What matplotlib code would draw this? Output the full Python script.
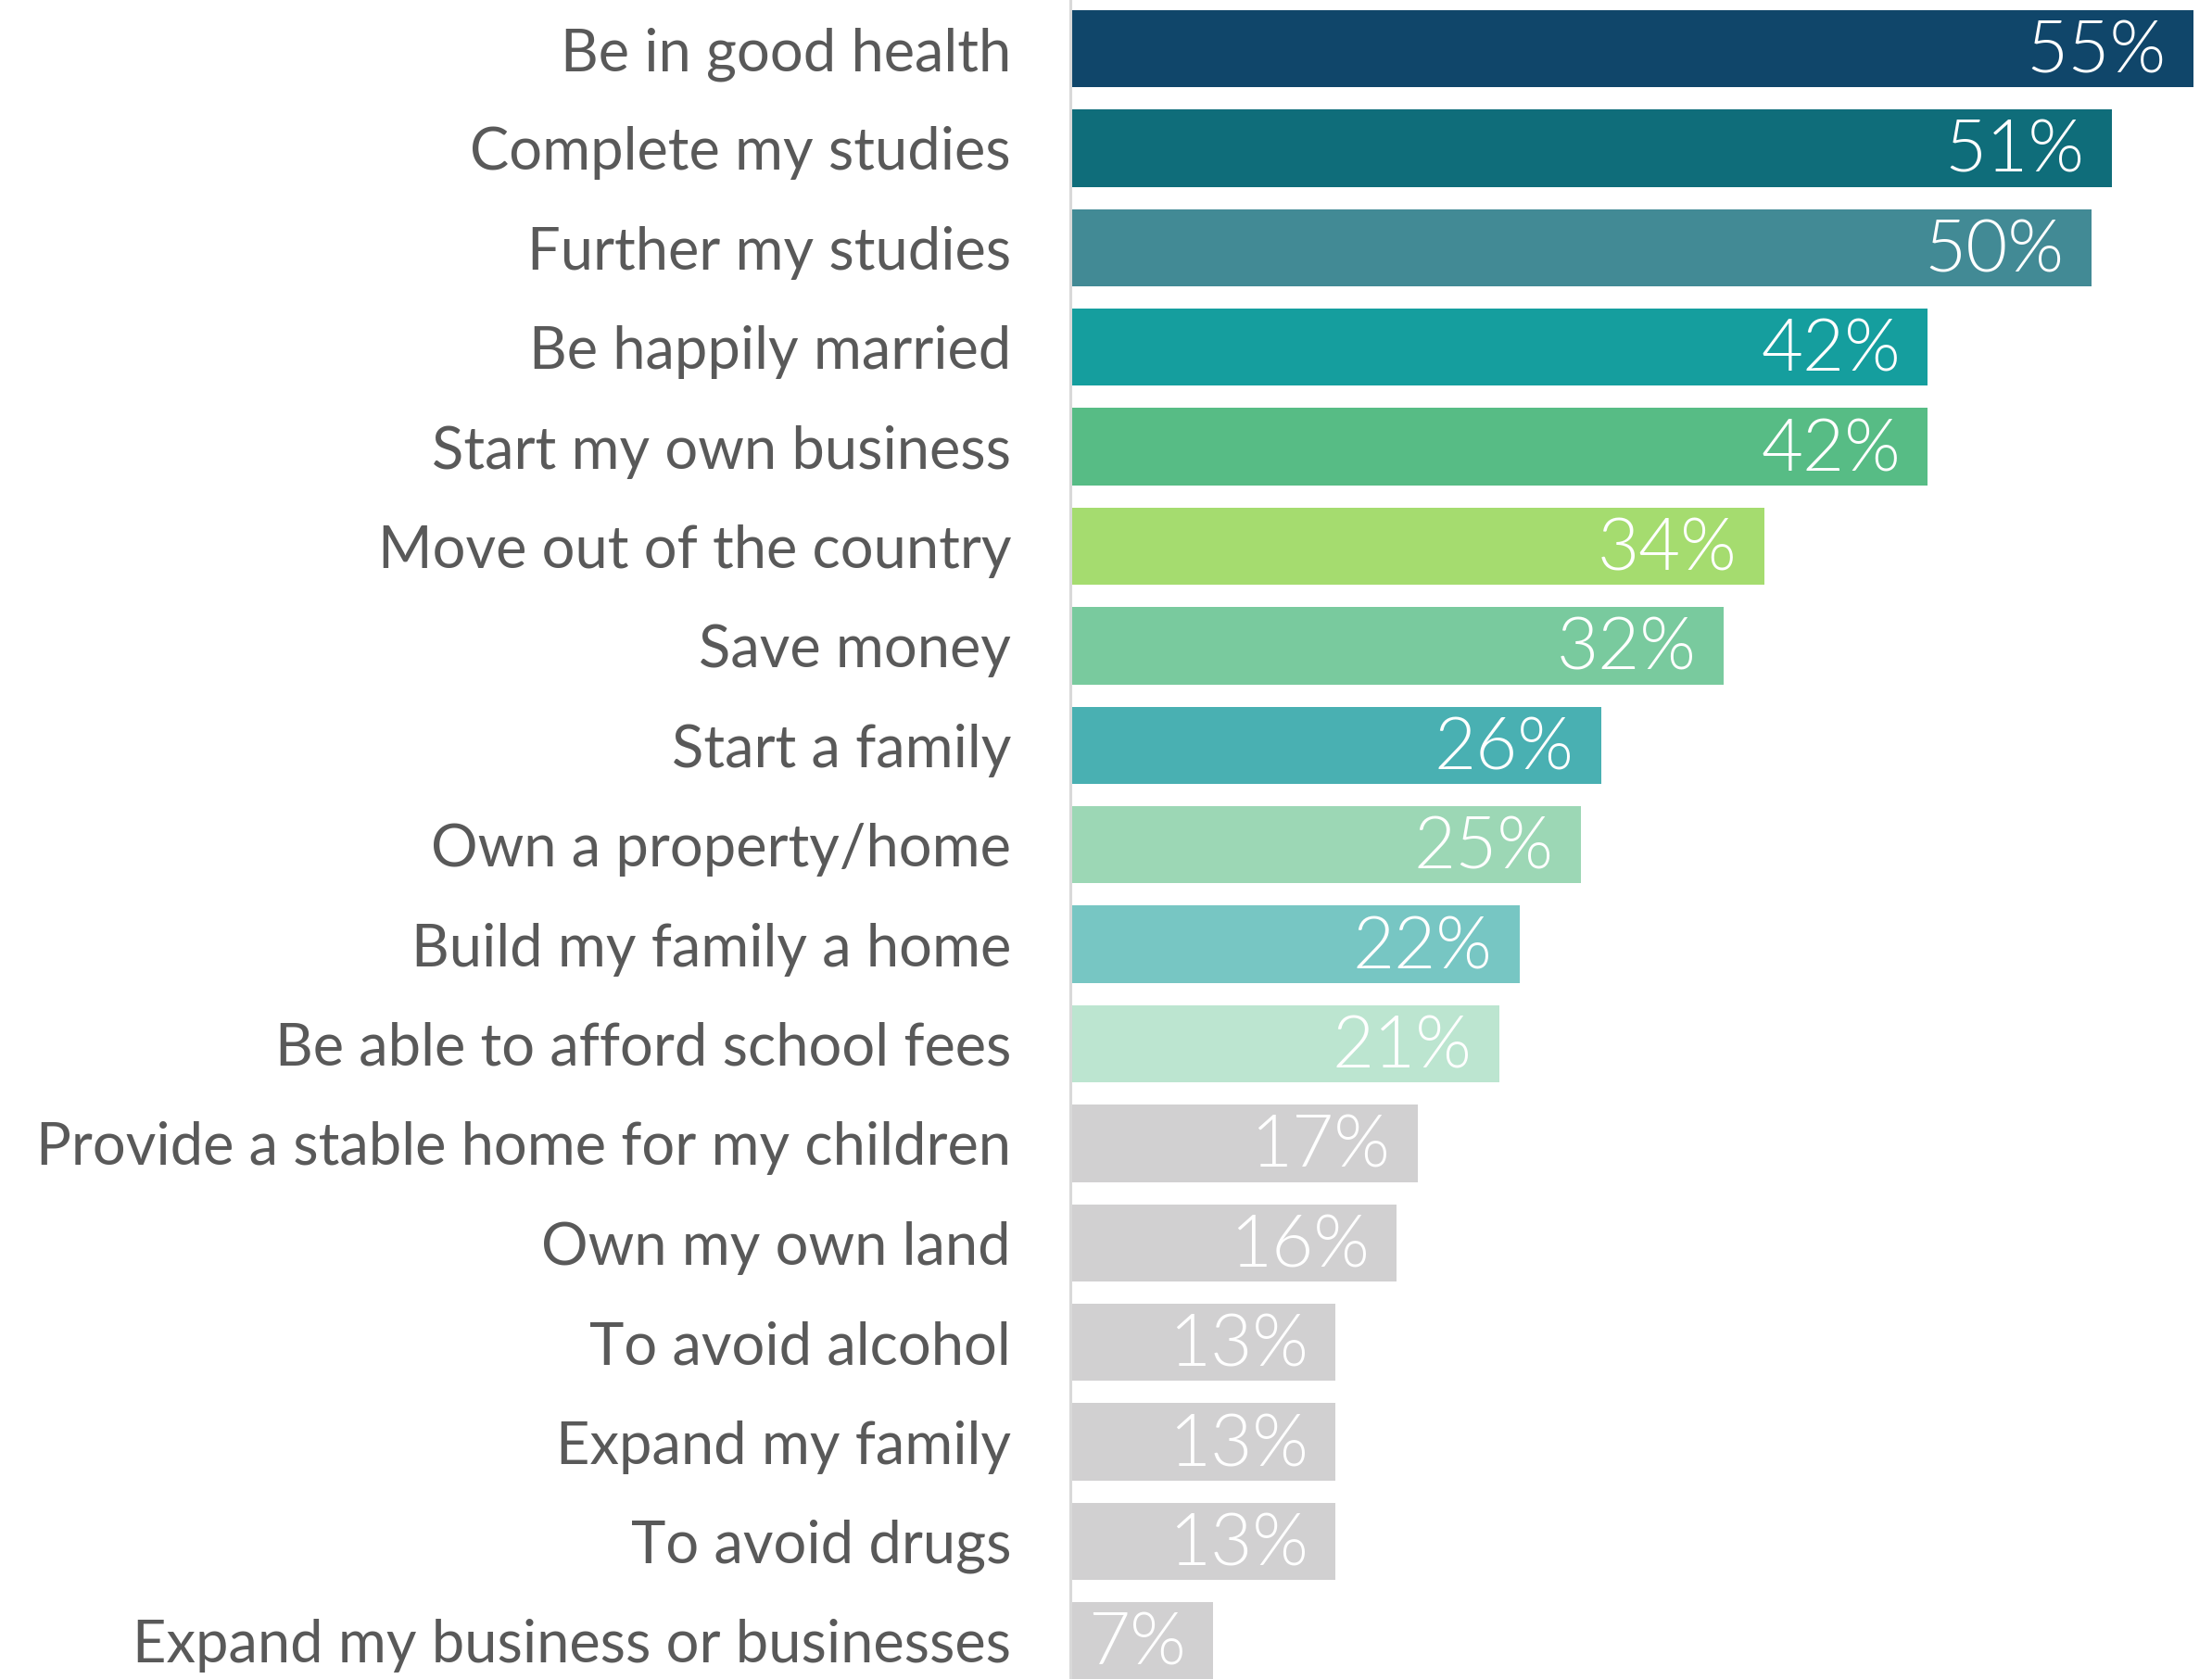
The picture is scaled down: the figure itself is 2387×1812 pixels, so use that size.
import matplotlib.pyplot as plt
from matplotlib import font_manager

# ── data ──────────────────────────────────────────────────────────────────────

goals = [
    "Be in good health",
    "Complete my studies",
    "Further my studies",
    "Be happily married",
    "Start my own business",
    "Move out of the country",
    "Save money",
    "Start a family",
    "Own a property/home",
    "Build my family a home",
    "Be able to afford school fees",
    "Provide a stable home for my children",
    "Own my own land",
    "To avoid alcohol",
    "Expand my family",
    "To avoid drugs",
    "Expand my business or businesses",
]
shares = [55, 51, 50, 42, 42, 34, 32, 26, 25, 22, 21, 17, 16, 13, 13, 13, 7]

bar_colors = [
    "#10466a", "#0f6d7a", "#428a95", "#159e9e", "#57bc85", "#a5dc6f",
    "#79ca9e", "#49b0b2", "#9cd7b5", "#77c6c3", "#bce5d0",
    "#d1d0d1", "#d1d0d1", "#d1d0d1", "#d1d0d1", "#d1d0d1", "#d1d0d1",
]

# ── fonts ─────────────────────────────────────────────────────────────────────

names = {f.name for f in font_manager.fontManager.ttflist}
family = "Lato" if "Lato" in names else "DejaVu Sans"

# ── plot ──────────────────────────────────────────────────────────────────────

W, H, DPI = 2387, 1812, 100
fig = plt.figure(figsize=(W / DPI, H / DPI), dpi=DPI)

x0 = 1155
ax = fig.add_axes([x0 / W, 0, (W - x0) / W, 1])

px_per_pct = 22.03
pitch = 107.4
top_c = 52.5

ypos = list(range(len(goals)))
ax.barh(ypos, shares, height=0.775, color=bar_colors, zorder=2)

ax.set_xlim(0, (W - x0) / px_per_pct)
ax.set_ylim((H - top_c) / pitch, -top_c / pitch)

ax.set_yticks(ypos)
ax.set_yticklabels(goals, fontsize=45.5, color="#595959", family=family)
ax.tick_params(axis="y", length=0, pad=46)
for lbl in ax.get_yticklabels():
    lbl.set_verticalalignment("center_baseline")
ax.set_xticks([])

for s in ["top", "right", "bottom"]:
    ax.spines[s].set_visible(False)
ax.spines["left"].set_color("#d9d9d9")
ax.spines["left"].set_linewidth(2.2)
ax.spines["left"].set_zorder(3)

for y, v in zip(ypos, shares):
    ax.annotate(f"{v}%", xy=(v, y), xytext=(-21, -3),
                textcoords="offset points", ha="right", va="center",
                fontsize=56, color="white", family=family,
                fontweight=300, zorder=4)

fig.savefig("out.png", dpi=DPI)
